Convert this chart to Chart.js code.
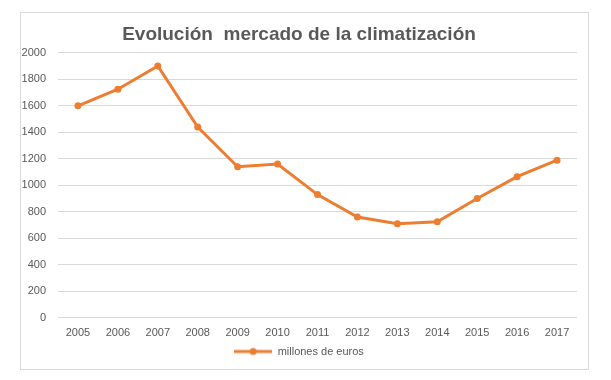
<!DOCTYPE html>
<html>
	<head>
		<style>
			body {
				margin: 0;
				background: #ffffff;
			}
			#frame {
				position: absolute;
				left: 20px;
				top: 12px;
				width: 567px;
				height: 356px;
				border: 1px solid #d9d9d9;
			}
		</style>
		<title>Evolución mercado de la climatización</title>
	</head>
	<body>
		<div id="frame">
			<canvas id="canvas1" width="567" height="356"></canvas>
		</div>
		<script src="https://cdn.jsdelivr.net/npm/chart.js@4/dist/chart.umd.min.js"></script>
		<script>
			var years = ['2005', '2006', '2007', '2008', '2009', '2010', '2011', '2012', '2013', '2014', '2015', '2016', '2017'];
			var millones = [1600, 1725, 1900, 1440, 1140, 1160, 930, 760, 710, 725, 900, 1065, 1190];
			var seriesName = 'millones de euros';
			var titleText = 'Evolución  mercado de la climatización';

			var orange = '#ED7D31';

			// little line+dot marker for the legend
			var marker = document.createElement('canvas');
			marker.width = 38;
			marker.height = 10;
			var mctx = marker.getContext('2d');
			mctx.strokeStyle = orange;
			mctx.lineWidth = 3;
			mctx.beginPath();
			mctx.moveTo(0, 5);
			mctx.lineTo(38, 5);
			mctx.stroke();
			mctx.fillStyle = orange;
			mctx.beginPath();
			mctx.arc(19, 5, 3.5, 0, Math.PI * 2);
			mctx.fill();

			Chart.defaults.font.family = '"Liberation Sans", Arial, sans-serif';
			Chart.defaults.color = '#595959';

			var ctx1 = document.getElementById('canvas1').getContext('2d');
			var chart1 = new Chart(ctx1, {
				type: 'line',
				data: {
					labels: years,
					datasets: [
						{
							label: seriesName,
							data: millones,
							borderColor: orange,
							backgroundColor: orange,
							borderWidth: 3,
							pointRadius: 3.5,
							pointHoverRadius: 3.5,
							pointBorderWidth: 0,
							fill: false,
							tension: 0
						}
					]
				},
				options: {
					responsive: false,
					animation: false,
					layout: {
						padding: { left: 0, right: 11, top: 0, bottom: 2 }
					},
					plugins: {
						title: {
							display: true,
							text: titleText,
							color: '#595959',
							font: { size: 19, weight: 'bold' },
							padding: { top: 10, bottom: 7 }
						},
						legend: {
							position: 'bottom',
							labels: {
								usePointStyle: true,
								pointStyle: marker,
								pointStyleWidth: 38,
								font: { size: 11 },
								color: '#595959',
								padding: 0
							}
						},
						tooltip: { enabled: false }
					},
					scales: {
						x: {
							offset: true,
							grid: { display: false, drawTicks: false },
							border: { display: false },
							ticks: {
								font: { size: 11 },
								color: '#595959',
								padding: 9,
								maxRotation: 0,
								autoSkip: false
							},
							afterFit: function (scale) {
								scale.height -= 3;
							}
						},
						y: {
							min: 0,
							max: 2000,
							grid: { color: '#d9d9d9', drawTicks: false },
							border: { display: false },
							ticks: {
								stepSize: 200,
								font: { size: 11 },
								color: '#595959',
								padding: 12,
								callback: function (v) { return String(v); }
							},
							afterFit: function (scale) {
								scale.width = 37;
							}
						}
					}
				}
			});
		</script>
	</body>
</html>
